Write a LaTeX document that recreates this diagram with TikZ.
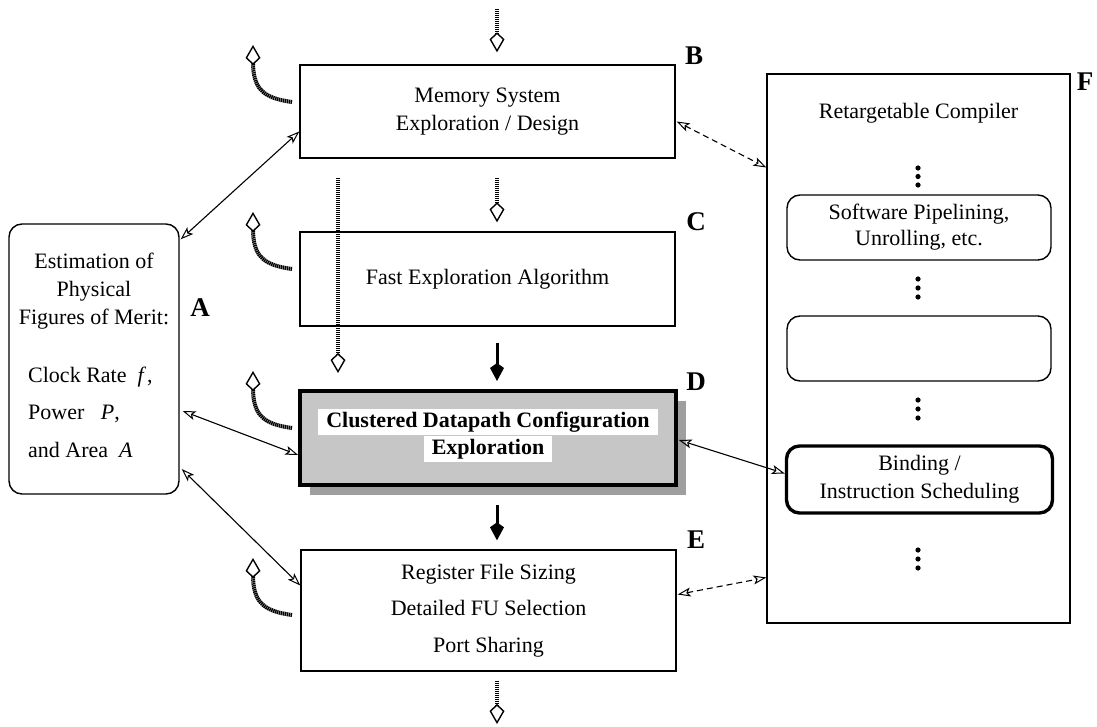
\documentclass[tikz,border=0pt]{standalone}
\usepackage{fontspec}
\setmainfont{Liberation Serif}
\usetikzlibrary{arrows.meta,calc}
\begin{document}
\begin{tikzpicture}[x=1pt,y=-1pt,
  txt/.style={font=\fontsize{22}{28}\selectfont, align=center, inner sep=0pt},
  box/.style={draw, line width=1.4pt, inner sep=0pt, font=\fontsize{22}{28}\selectfont, align=center},
  rbox/.style={box, rounded corners=13pt},
  lbl/.style={font=\fontsize{27}{30}\selectfont\bfseries, inner sep=0pt},
  dbl/.style={line width=1.1pt, {Stealth[open,length=13pt,width=9pt,inset=3pt,line width=1pt]}-{Stealth[open,length=13pt,width=9pt,inset=3pt,line width=1pt]}},
  dashdbl/.style={dbl, dash pattern=on 6pt off 4pt},
  hatch/.style={line width=4pt, dash pattern=on 1.4pt off 0.6pt,
     -{Kite[fill=white,length=20pt,width=15pt,inset=7pt,line width=1.4pt]}},
  solidarr/.style={line width=3pt, -{Kite[length=18pt,width=14pt,inset=5pt]}}
]
\useasboundingbox (0,0) rectangle (1097,727);

% ---- main column boxes
\node[box, minimum width=375pt, minimum height=93pt] (B) at (487.5,111.5) {Memory System\\Exploration / Design};
\node[box, minimum width=375pt, minimum height=94pt] (C) at (487.5,279) {Fast Exploration Algorithm};
% D with shadow
\fill[gray!75] (310,401) rectangle (686,495);
\node[draw, line width=3.6pt, fill=gray!45, inner sep=0pt, minimum width=376pt, minimum height=94pt] (D) at (488,438) {};
\node[txt, fill=white, font=\fontsize{22}{28}\selectfont\bfseries, inner xsep=8pt, inner ysep=3pt] (D1) at (488,422) {Clustered Datapath Configuration};
\node[txt, fill=white, font=\fontsize{22}{28}\selectfont\bfseries, inner xsep=8pt, inner ysep=3pt] (D2) at (488,449) {Exploration};
\node[box, minimum width=375pt, minimum height=121pt] (E) at (488.5,610.5) {Register File Sizing\\[8.5pt]Detailed FU Selection\\[8.5pt]Port Sharing};

% ---- A box
\node[rbox, minimum width=170pt, minimum height=270pt] (A) at (94,359) {};
\node[txt] (A1) at (94,291) {Estimation of\\Physical\\Figures of Merit:};
\node[txt, anchor=west, align=left, font=\fontsize{22}{37.5}\selectfont] (A2) at (28,412) {Clock Rate\ \ \textit{f}\kern1pt,\\Power\ \ \ \textit{P},\\and Area\ \ \textit{A}};

% ---- F box
\node[box, minimum width=303pt, minimum height=549pt] (F) at (918.5,348.5) {};
\node[txt] (F1) at (918.5,113) {Retargetable Compiler};
\node[rbox, minimum width=264pt, minimum height=65pt] (SP) at (919,227.5) {Software Pipelining,\\[-2pt]Unrolling, etc.};
\node[rbox, minimum width=264pt, minimum height=65pt] (EM) at (919,348.5) {};
\node[rbox, line width=3.4pt, minimum width=266pt, minimum height=67pt] (BI) at (919.5,479.5) {Binding /\\Instruction Scheduling};

% dots
\foreach \y in {168,176.5,185, 279,288,297, 400,409,418, 550,559,568}
  \fill (918,\y) circle (2.6pt);

% ---- labels
\node[lbl] (LA) at (200,308) {A};
\node[lbl] (LB) at (694,56) {B};
\node[lbl] (LC) at (696,222) {C};
\node[lbl] (LD) at (696,382) {D};
\node[lbl] (LE) at (696,540) {E};
\node[lbl] (LF) at (1085,82) {F};

% ---- solid double arrows
\draw[dbl] ($(A.north east)+(1,16)$) -- ($(B.west)+(0,20)$);
\draw[dbl] ($(A.east)+(3,52)$) -- ($(D.west)+(0,17)$);
\draw[dbl] ($(A.east)+(2,110)$) -- ($(E.west)+(0,-25)$);
\draw[dbl] ($(D.east)+(1,2)$) -- ($(BI.west)+(0,-6)$);
% dashed double arrows
\draw[dashdbl] ($(B.east)+(1,10)$) -- ($(F.west)+(0,-181)$);
\draw[dashdbl] ($(E.east)+(1,-16)$) -- ($(F.west)+(0,229)$);

% ---- solid flow arrows
\coordinate (s1) at (497,343);
\draw[solidarr] (s1) -- (497,381);
\draw[solidarr] ($(D.south)+(9,18)$) -- ($(E.north)+(8.5,-9)$);

% ---- hatched arrows
\coordinate (t0) at (497,9);
\draw[hatch] (t0) -- ($(B.north)+(9.5,-12)$);
\draw[hatch] ($(B.south)+(9.5,19)$) -- ($(C.north)+(9.5,-9)$);
\draw[hatch] ($(B.south)+(-149.5,19)$) -- (338,373);
\draw[hatch] ($(E.south)+(8.5,9)$) -- (497,724);

% curls
\foreach \n/\by/\ty in {cb/102/45, cc/269/212, cd/428/371, ce/615/558}{
  \coordinate (\n) at (292,\by);
  \draw[hatch] (\n) .. controls (262,{\by-4}) and (253,{\by-14}) .. (253,\ty);
}
\end{tikzpicture}
\end{document}
